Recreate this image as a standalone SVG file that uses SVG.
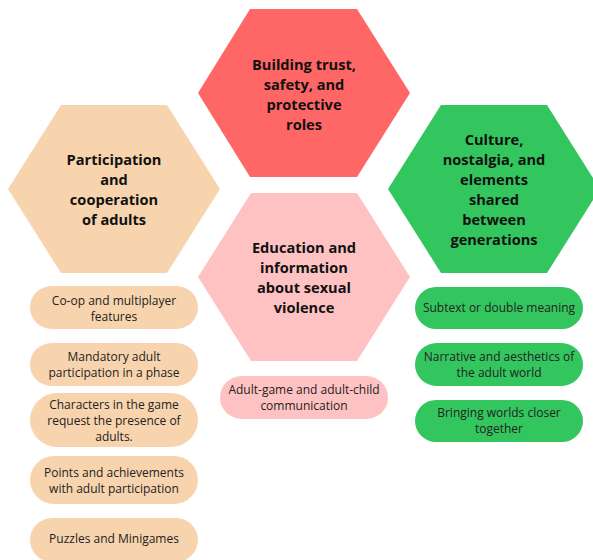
<svg xmlns="http://www.w3.org/2000/svg" width="593" height="560" viewBox="0 0 593 560">
<style>
.h{font-family:"Open Sans","Noto Sans",sans-serif;font-weight:bold;font-size:14.6px;fill:#111;text-anchor:middle}
.p{font-family:"Open Sans","Noto Sans",sans-serif;font-size:12px;fill:#222;text-anchor:middle}
.red{fill:#FF6666}.peach{fill:#F8D4AE}.green{fill:#33C65E}.pink{fill:#FFC2C2}
</style>
<rect width="593" height="560" fill="#fff"/>
<g id="node-trust">
<polygon class="red" points="250,9 357,9 410,93 357,177 250,177 198,93"/>
<text class="h" x="304" y="70">Building trust,</text>
<text class="h" x="304" y="90">safety, and</text>
<text class="h" x="304" y="110">protective</text>
<text class="h" x="304" y="130">roles</text>
</g>
<g id="node-participation">
<polygon class="peach" points="61,105 167,105 220,189 167,273 61,273 8,189"/>
<text class="h" x="114" y="165">Participation</text>
<text class="h" x="114" y="185">and</text>
<text class="h" x="114" y="205">cooperation</text>
<text class="h" x="114" y="225">of adults</text>
</g>
<g id="node-culture">
<polygon class="green" points="441,105 547,105 600,189 547,273 441,273 388,189"/>
<text class="h" x="494" y="145">Culture,</text>
<text class="h" x="494" y="165">nostalgia, and</text>
<text class="h" x="494" y="185">elements</text>
<text class="h" x="494" y="205">shared</text>
<text class="h" x="494" y="225">between</text>
<text class="h" x="494" y="245">generations</text>
</g>
<g id="node-education">
<polygon class="pink" points="251,193 357,193 410,277 357,361 251,361 198,277"/>
<text class="h" x="304" y="253">Education and</text>
<text class="h" x="304" y="273">information</text>
<text class="h" x="304" y="293">about sexual</text>
<text class="h" x="304" y="313">violence</text>
</g>
<g id="node-coop">
<rect class="peach" x="30" y="286" width="168" height="43" rx="21.5"/>
<text class="p" x="114" y="305">Co-op and multiplayer</text>
<text class="p" x="114" y="321">features</text>
</g>
<g id="node-mandatory">
<rect class="peach" x="30" y="343" width="168" height="43" rx="21.5"/>
<text class="p" x="114" y="361">Mandatory adult</text>
<text class="p" x="114" y="377">participation in a phase</text>
</g>
<g id="node-characters">
<rect class="peach" x="30" y="393" width="168" height="54" rx="27"/>
<text class="p" x="114" y="409">Characters in the game</text>
<text class="p" x="114" y="425">request the presence of</text>
<text class="p" x="114" y="441">adults.</text>
</g>
<g id="node-points">
<rect class="peach" x="30" y="456" width="168" height="48" rx="24"/>
<text class="p" x="114" y="477">Points and achievements</text>
<text class="p" x="114" y="493">with adult participation</text>
</g>
<g id="node-puzzles">
<rect class="peach" x="30" y="518" width="168" height="44" rx="22"/>
<text class="p" x="114" y="543">Puzzles and Minigames</text>
</g>
<g id="node-communication">
<rect class="pink" x="220" y="376" width="168" height="43" rx="21.5"/>
<text class="p" x="304" y="394">Adult-game and adult-child</text>
<text class="p" x="304" y="410">communication</text>
</g>
<g id="node-subtext">
<rect class="green" x="415" y="287" width="168" height="42" rx="21"/>
<text class="p" x="499" y="312">Subtext or double meaning</text>
</g>
<g id="node-narrative">
<rect class="green" x="415" y="343" width="168" height="43" rx="21.5"/>
<text class="p" x="499" y="361">Narrative and aesthetics of</text>
<text class="p" x="499" y="377">the adult world</text>
</g>
<g id="node-bringing">
<rect class="green" x="415" y="400" width="168" height="42" rx="21"/>
<text class="p" x="499" y="417">Bringing worlds closer</text>
<text class="p" x="499" y="433">together</text>
</g>
<g id="connectors"></g>
</svg>
